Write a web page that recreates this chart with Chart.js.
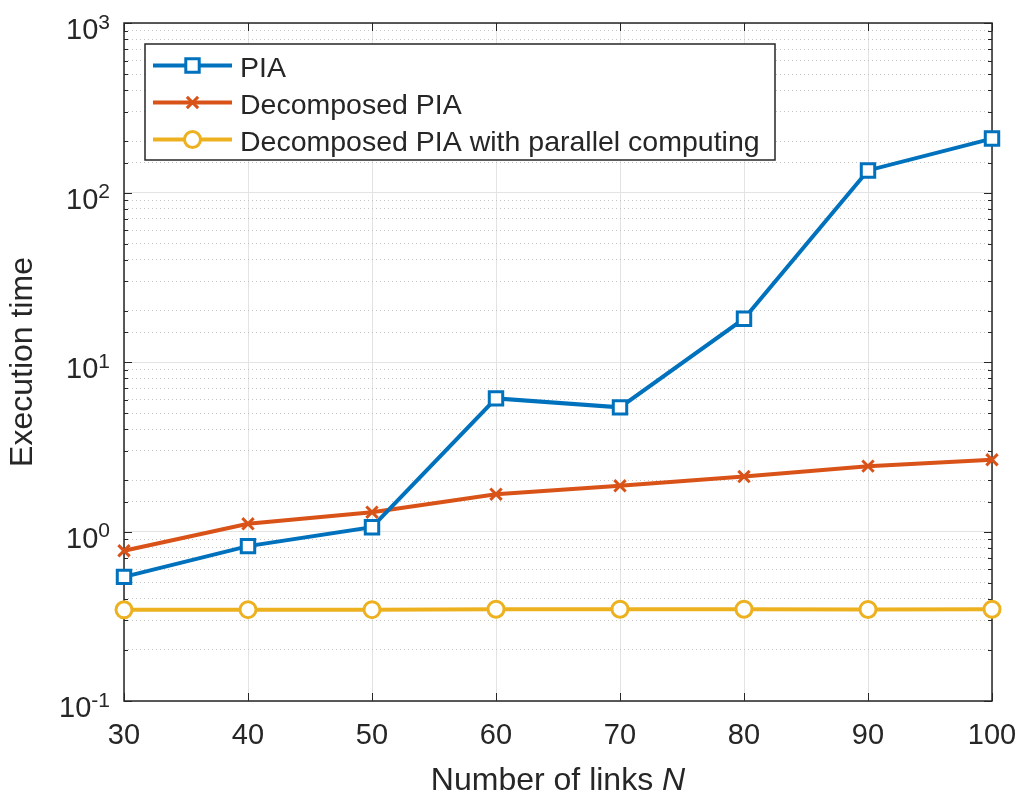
<!DOCTYPE html>
<html>
<head>
<meta charset="utf-8">
<script src="https://cdn.jsdelivr.net/npm/chart.js@4.4.1/dist/chart.umd.min.js"></script>
<style>
  html, body { margin: 0; padding: 0; background: #fff; overflow: hidden; }
  #timeChart { display: block; }
</style>
</head>
<body>
<canvas id="timeChart" width="1023" height="797"></canvas>
<script>
/*
Execution time vs number of links, log y axis, drawn MATLAB style.
*/

// data
const linkCounts     = [30, 40, 50, 60, 70, 80, 90, 100];
const piaTime        = [0.54, 0.82, 1.06, 6.1, 5.4, 18.0, 135, 208];
const decomposedTime = [0.77, 1.11, 1.30, 1.66, 1.86, 2.11, 2.43, 2.65];
const parallelTime   = [0.345, 0.346, 0.346, 0.348, 0.348, 0.348, 0.347, 0.348];
const seriesNames    = ["PIA", "Decomposed PIA", "Decomposed PIA with parallel computing"];
const yDecades       = [0.1, 1, 10, 100, 1000];
const yExponents     = ["-1", "0", "1", "2", "3"];
const xTitleParts    = ["Number of links ", "N"];
const yTitle         = "Execution time";

const INK = "#262626";
const FONT = "'Liberation Sans', Arial, Helvetica, sans-serif";
const colors = ["#0072BD", "#D95319", "#EDB120"];

const isDecade = v => Math.abs(Math.log10(v) - Math.round(Math.log10(v))) < 1e-9;


// simple marker for the legend, same shapes as the points
function drawMarker(ctx, style, r, cx, cy) {
  ctx.beginPath();
  if (style === "rect") {
    const h = r * Math.SQRT1_2;
    ctx.rect(cx - h, cy - h, 2 * h, 2 * h);
    ctx.fill(); ctx.stroke();
  } else if (style === "circle") {
    ctx.arc(cx, cy, r, 0, Math.PI * 2);
    ctx.fill(); ctx.stroke();
  } else {
    const h = r * Math.SQRT1_2;
    ctx.moveTo(cx - h, cy - h); ctx.lineTo(cx + h, cy + h);
    ctx.moveTo(cx - h, cy + h); ctx.lineTo(cx + h, cy - h);
    ctx.stroke();
  }
}


// frame, inward ticks, superscript labels, x title, legend
const matlabLook = {
  id: "matlabLook",

  beforeDatasetsDraw(chart) {
    const { ctx, chartArea: a, scales: { x, y } } = chart;
    ctx.save();
    ctx.strokeStyle = INK;
    ctx.lineWidth = 1;
    ctx.beginPath();
    // ticks on x
    x.ticks.forEach(t => {
      const px = Math.round(x.getPixelForValue(t.value)) + 0.5;
      ctx.moveTo(px, a.bottom); ctx.lineTo(px, a.bottom - 8);
      ctx.moveTo(px, a.top);    ctx.lineTo(px, a.top + 8);
    });
    // ticks on y, major longer
    y.ticks.forEach(t => {
      const py = Math.round(y.getPixelForValue(t.value)) + 0.5;
      const len = isDecade(t.value) ? 8 : 4;
      ctx.moveTo(a.left, py);  ctx.lineTo(a.left + len, py);
      ctx.moveTo(a.right, py); ctx.lineTo(a.right - len, py);
    });
    ctx.stroke();
    ctx.lineWidth = 1.5;
    ctx.strokeRect(a.left, a.top, a.right - a.left, a.bottom - a.top);
    ctx.restore();
  },

  afterDraw(chart) {
    const { ctx, chartArea: a, scales: { y } } = chart;
    ctx.save();
    ctx.fillStyle = INK;
    ctx.textBaseline = "alphabetic";
    ctx.textAlign = "left";

    // y tick labels as 10^n
    yDecades.forEach((v, i) => {
      const py = y.getPixelForValue(v);
      const right = a.left - 14;
      ctx.font = `21px ${FONT}`;
      const ew = ctx.measureText(yExponents[i]).width;
      ctx.fillText(yExponents[i], right - ew, py + 5.5);
      ctx.font = `29px ${FONT}`;
      const bw = ctx.measureText("10").width;
      ctx.fillText("10", right - ew - bw, py + 16);
    });

    // x title with italic N
    ctx.font = `32px ${FONT}`;
    const w1 = ctx.measureText(xTitleParts[0]).width;
    ctx.font = `italic 32px ${FONT}`;
    const w2 = ctx.measureText(xTitleParts[1]).width;
    const startX = (a.left + a.right) / 2 - (w1 + w2) / 2;
    ctx.font = `32px ${FONT}`;
    ctx.fillText(xTitleParts[0], startX, 790);
    ctx.font = `italic 32px ${FONT}`;
    ctx.fillText(xTitleParts[1], startX + w1, 790);

    // legend box
    const box = { l: 145, t: 44, r: 775, b: 160 };
    ctx.fillStyle = "#fff";
    ctx.fillRect(box.l, box.t, box.r - box.l, box.b - box.t);
    ctx.strokeStyle = INK;
    ctx.lineWidth = 1.5;
    ctx.strokeRect(box.l, box.t, box.r - box.l, box.b - box.t);

    const rows = [65.5, 102.5, 139.5];
    chart.data.datasets.forEach((ds, i) => {
      const ry = rows[i];
      ctx.strokeStyle = ds.borderColor;
      ctx.lineWidth = ds.borderWidth;
      ctx.beginPath();
      ctx.moveTo(153, ry); ctx.lineTo(232, ry);
      ctx.stroke();
      ctx.fillStyle = "#fff";
      ctx.lineWidth = ds.pointBorderWidth;
      drawMarker(ctx, ds.pointStyle, ds.pointRadius, 192.5, ry);
      ctx.fillStyle = INK;
      ctx.font = `28.5px ${FONT}`;
      ctx.fillText(seriesNames[i], 240, ry + 11);
    });
    ctx.restore();
  }
};


function makeSeries(label, values, color, style, radius) {
  return {
    label: label,
    data: linkCounts.map((n, i) => ({ x: n, y: values[i] })),
    borderColor: color,
    backgroundColor: "#fff",
    borderWidth: 4,
    pointStyle: style,
    pointRadius: radius,
    pointHoverRadius: radius,
    pointBorderWidth: 3,
    pointBackgroundColor: "#fff",
    pointBorderColor: color,
    tension: 0,
    clip: false
  };
}


new Chart(document.getElementById("timeChart"), {
  type: "line",
  data: {
    datasets: [
      makeSeries(seriesNames[0], piaTime, colors[0], "rect", 9.5),
      makeSeries(seriesNames[1], decomposedTime, colors[1], "crossRot", 8),
      makeSeries(seriesNames[2], parallelTime, colors[2], "circle", 8)
    ]
  },
  options: {
    responsive: false,
    animation: false,
    devicePixelRatio: 1,
    layout: { padding: { left: 0, right: 31, top: 23, bottom: 0 } },
    plugins: {
      legend: { display: false },
      tooltip: { enabled: false }
    },
    scales: {
      x: {
        type: "linear",
        min: 30,
        max: 100,
        ticks: {
          stepSize: 10,
          padding: 18,
          color: INK,
          font: { family: FONT, size: 29 }
        },
        grid: { color: "#e3e3e3", lineWidth: 1, drawTicks: false },
        border: { display: false },
        afterFit: s => { s.height = 96; s.paddingLeft = 0; s.paddingRight = 0; }
      },
      y: {
        type: "logarithmic",
        min: 0.1,
        max: 1000,
        ticks: { display: false, autoSkip: false },
        grid: {
          drawTicks: false,
          lineWidth: 1,
          color: c => isDecade(c.tick.value) ? "#e3e3e3" : "#c4c4c4"
        },
        border: {
          display: false,
          dash: c => (c.tick && isDecade(c.tick.value)) ? [] : [1, 3]
        },
        title: {
          display: true,
          text: yTitle,
          color: INK,
          font: { family: FONT, size: 32 },
          padding: { top: 4, bottom: 0 }
        },
        afterFit: s => { s.width = 124; s.paddingTop = 0; s.paddingBottom = 0; }
      }
    }
  },
  plugins: [matlabLook]
});
</script>
</body>
</html>
